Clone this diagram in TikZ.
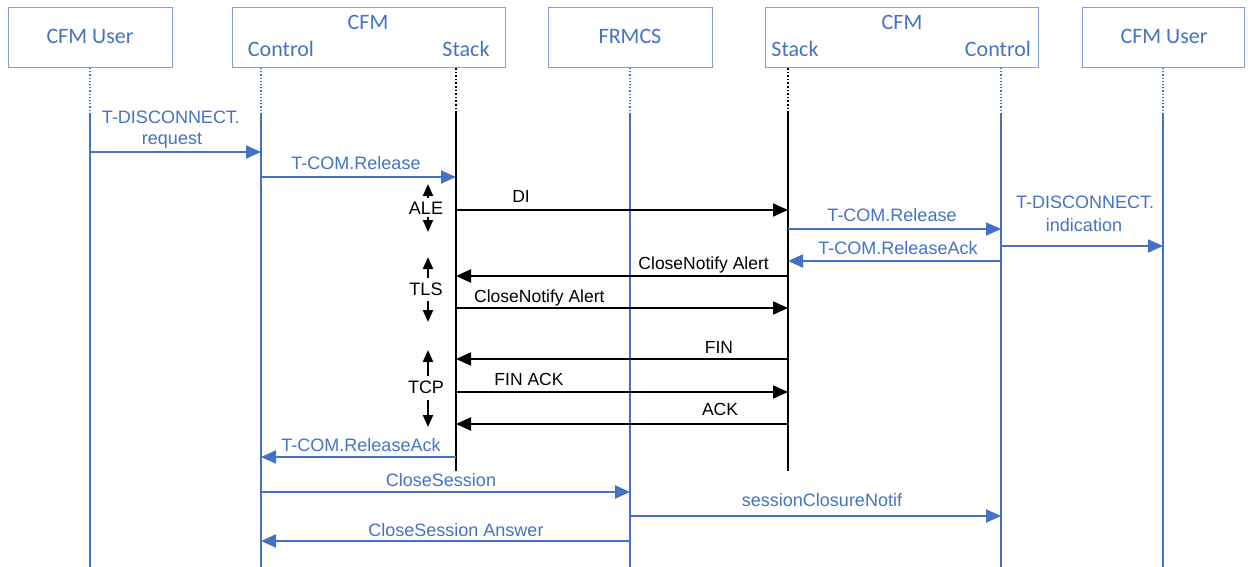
\documentclass[tikz,border=0pt]{standalone}
\usepackage{fontspec}
\setmainfont{Liberation Sans}
\newfontfamily\hdrfont{Carlito}
\usetikzlibrary{arrows.meta}
\definecolor{ofblue}{HTML}{4472C4}
\definecolor{boxblue}{HTML}{7F9FD6}
\tikzset{
  hdrbox/.style={draw=boxblue, line width=1pt},
  hdr/.style={font=\hdrfont\fontsize{22}{25}\selectfont, text=ofblue, anchor=base, inner sep=0pt},
  bluelab/.style={font=\fontsize{18}{21}\selectfont, text=ofblue, anchor=base, inner sep=0pt},
  blacklab/.style={font=\fontsize{17.5}{20}\selectfont, anchor=base, inner sep=0pt},
  layerlab/.style={font=\fontsize{18}{21}\selectfont, anchor=base, inner sep=0pt},
  bluelife/.style={draw=ofblue, line width=2pt},
  bluedots/.style={draw=ofblue, line width=1.2pt, dotted},
  blacklife/.style={draw=black, line width=2.4pt},
  blackdots/.style={draw=black, line width=1.6pt, dotted},
  bmsg/.style={draw=ofblue, line width=2pt, -{Triangle[length=15pt,width=13pt]}, fill=ofblue},
  kmsg/.style={draw=black, line width=2pt, -{Triangle[length=15pt,width=13pt]}},
  span/.style={draw=black, line width=2pt, -{Triangle[length=12pt,width=10pt]}}
}
\begin{document}
\begin{tikzpicture}[x=1pt,y=-1pt]
\useasboundingbox (0,0) rectangle (1248,567);

% participant boxes
\node[hdrbox, minimum width=164pt, minimum height=60pt, anchor=north west] (userL) at (8,7) {};
\node[hdrbox, minimum width=273pt, minimum height=60pt, anchor=north west] (cfmL) at (232,7) {};
\node[hdrbox, minimum width=164pt, minimum height=60pt, anchor=north west] (frmcs) at (548,7) {};
\node[hdrbox, minimum width=273pt, minimum height=60pt, anchor=north west] (cfmR) at (765,7) {};
\node[hdrbox, minimum width=162pt, minimum height=60pt, anchor=north west] (userR) at (1082,7) {};

\node[hdr] (tUserL) at (90,43.5) {CFM User};
\node[hdr] (tCfmL) at (368,30) {CFM};
\node[hdr] (tCtlL) at (281,57) {Control};
\node[hdr] (tStkL) at (466,57) {Stack};
\node[hdr] (tFrmcs) at (630,43.5) {FRMCS};
\node[hdr] (tCfmR) at (902,30) {CFM};
\node[hdr] (tStkR) at (795,57) {Stack};
\node[hdr] (tCtlR) at (998,57) {Control};
\node[hdr] (tUserR) at (1164,43.5) {CFM User};

% lifelines
\foreach \n/\x in {uL/90, cL/261, fr/630, cR/1001, uR/1163}{
  \coordinate (\n-top) at (\x,68);
  \coordinate (\n-act) at (\x,113);
  \coordinate (\n-end) at (\x,567);
  \draw[bluedots] (\n-top) -- (\n-act);
  \draw[bluelife] (\n-act) -- (\n-end);
}
\foreach \n/\x in {sL/456, sR/788}{
  \coordinate (\n-top) at (\x,68);
  \coordinate (\n-act) at (\x,113);
  \coordinate (\n-end) at (\x,471);
  \draw[blackdots] (\n-top) -- (\n-act);
  \draw[blacklife] (\n-act) -- (\n-end);
}

% message anchor points
\coordinate (m1a) at (90,152);   \coordinate (m1b) at (261,152);
\coordinate (m2a) at (261,177);  \coordinate (m2b) at (456,177);
\coordinate (m3a) at (456,210);  \coordinate (m3b) at (788,210);
\coordinate (m4a) at (788,229);  \coordinate (m4b) at (1001,229);
\coordinate (m5a) at (1001,246); \coordinate (m5b) at (1163,246);
\coordinate (m6a) at (1001,261); \coordinate (m6b) at (788,261);
\coordinate (m7a) at (788,276);  \coordinate (m7b) at (456,276);
\coordinate (m8a) at (456,308);  \coordinate (m8b) at (788,308);
\coordinate (m9a) at (788,359);  \coordinate (m9b) at (456,359);
\coordinate (m10a) at (456,392); \coordinate (m10b) at (788,392);
\coordinate (m11a) at (788,424); \coordinate (m11b) at (456,424);
\coordinate (m12a) at (456,457); \coordinate (m12b) at (261,457);
\coordinate (m13a) at (261,492); \coordinate (m13b) at (630,492);
\coordinate (m14a) at (630,516); \coordinate (m14b) at (1001,516);
\coordinate (m15a) at (630,541); \coordinate (m15b) at (261,541);

% messages
\draw[bmsg] (m1a) -- (m1b);
\draw[bmsg] (m2a) -- (m2b);
\draw[kmsg] (m3a) -- (m3b);
\draw[bmsg] (m4a) -- (m4b);
\draw[bmsg] (m5a) -- (m5b);
\draw[bmsg] (m6a) -- (m6b);
\draw[kmsg] (m7a) -- (m7b);
\draw[kmsg] (m8a) -- (m8b);
\draw[kmsg] (m9a) -- (m9b);
\draw[kmsg] (m10a) -- (m10b);
\draw[kmsg] (m11a) -- (m11b);
\draw[bmsg] (m12a) -- (m12b);
\draw[bmsg] (m13a) -- (m13b);
\draw[bmsg] (m14a) -- (m14b);
\draw[bmsg] (m15a) -- (m15b);

% message labels
\node[bluelab] (l1a) at (171,123.5) {T-DISCONNECT.};
\node[bluelab] (l1b) at (172,145) {request};
\node[bluelab] (l2) at (356,169.5) {T-COM.Release};
\node[blacklab] (l3) at (521,203) {DI};
\node[bluelab] (l4) at (892,222) {T-COM.Release};
\node[bluelab] (l5a) at (1085,208.5) {T-DISCONNECT.};
\node[bluelab] (l5b) at (1084,231) {indication};
\node[bluelab] (l6) at (898,254.5) {T-COM.ReleaseAck};
\node[blacklab, anchor=base east] (l7) at (769,269) {CloseNotify Alert};
\node[blacklab, anchor=base west] (l8) at (474,302) {CloseNotify Alert};
\node[blacklab] (l9) at (719,353) {FIN};
\node[blacklab] (l10) at (529,385) {FIN ACK};
\node[blacklab] (l11) at (720,415) {ACK};
\node[bluelab] (l12) at (361,451) {T-COM.ReleaseAck};
\node[bluelab] (l13) at (441,486.5) {CloseSession};
\node[bluelab] (l14) at (822,506) {sessionClosureNotif};
\node[bluelab] (l15) at (456,536) {CloseSession Answer};

% protocol layer spans
\node[layerlab] (ale) at (426,214) {ALE};
\node[layerlab] (tls) at (426,295) {TLS};
\node[layerlab] (tcp) at (426,393) {TCP};
\coordinate (aleUp) at (428,184);  \coordinate (aleUpS) at (428,198);
\coordinate (aleDn) at (428,232);  \coordinate (aleDnS) at (428,217);
\coordinate (tlsUp) at (428,257);  \coordinate (tlsUpS) at (428,278);
\coordinate (tlsDn) at (428,322);  \coordinate (tlsDnS) at (428,301);
\coordinate (tcpUp) at (428,350);  \coordinate (tcpUpS) at (428,376);
\coordinate (tcpDn) at (428,427);  \coordinate (tcpDnS) at (428,400);
\draw[span] (aleUpS) -- (aleUp);
\draw[span] (aleDnS) -- (aleDn);
\draw[span] (tlsUpS) -- (tlsUp);
\draw[span] (tlsDnS) -- (tlsDn);
\draw[span] (tcpUpS) -- (tcpUp);
\draw[span] (tcpDnS) -- (tcpDn);
\end{tikzpicture}
\end{document}
